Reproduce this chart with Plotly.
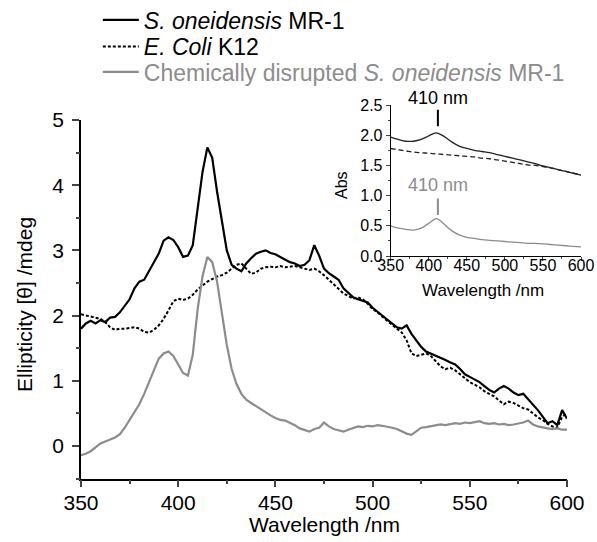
import plotly.graph_objects as go

# ---------------- data: main CD spectra ----------------
wl = [350 + 2.5 * i for i in range(101)]

mr1 = [1.80, 1.88, 1.92, 1.88, 1.93, 1.90, 1.97, 1.98, 2.05, 2.15,
       2.25, 2.42, 2.52, 2.55, 2.68, 2.82, 2.95, 3.15, 3.20, 3.16,
       3.05, 2.90, 2.92, 3.08, 3.65, 4.20, 4.58, 4.42, 3.90, 3.45,
       3.00, 2.78, 2.72, 2.68, 2.80, 2.88, 2.95, 2.98, 3.00, 2.96,
       2.94, 2.90, 2.86, 2.82, 2.80, 2.76, 2.78, 2.85, 3.08, 2.92,
       2.72, 2.65, 2.60, 2.55, 2.42, 2.35, 2.28, 2.25, 2.22, 2.20,
       2.12, 2.06, 2.00, 1.95, 1.88, 1.82, 1.80, 1.85, 1.72, 1.62,
       1.52, 1.45, 1.42, 1.38, 1.35, 1.32, 1.28, 1.25, 1.18, 1.10,
       1.06, 1.02, 0.98, 0.92, 0.86, 0.82, 0.88, 0.92, 0.88, 0.82,
       0.78, 0.80, 0.72, 0.64, 0.55, 0.45, 0.35, 0.38, 0.32, 0.55,
       0.42]

ecoli = [2.02, 2.00, 1.98, 1.97, 1.95, 1.90, 1.82, 1.78, 1.80, 1.80,
         1.81, 1.82, 1.80, 1.75, 1.74, 1.78, 1.85, 1.95, 2.08, 2.22,
         2.26, 2.24, 2.26, 2.32, 2.40, 2.46, 2.52, 2.56, 2.60, 2.62,
         2.66, 2.72, 2.78, 2.80, 2.72, 2.64, 2.66, 2.72, 2.74, 2.75,
         2.74, 2.76, 2.74, 2.75, 2.76, 2.74, 2.72, 2.70, 2.72, 2.68,
         2.62, 2.55, 2.48, 2.40, 2.34, 2.30, 2.26, 2.28, 2.25, 2.18,
         2.10, 2.05, 1.98, 1.92, 1.86, 1.80, 1.74, 1.62, 1.42, 1.38,
         1.40, 1.42, 1.38, 1.30, 1.22, 1.18, 1.20, 1.16, 1.10, 1.04,
         0.98, 0.94, 0.90, 0.84, 0.80, 0.76, 0.70, 0.64, 0.68, 0.66,
         0.62, 0.58, 0.56, 0.50, 0.44, 0.40, 0.34, 0.30, 0.28, 0.45,
         0.50]

disrupted = [-0.14, -0.12, -0.08, -0.02, 0.04, 0.07, 0.10, 0.13, 0.18, 0.28,
             0.40, 0.52, 0.64, 0.80, 0.98, 1.16, 1.34, 1.42, 1.45, 1.38,
             1.26, 1.12, 1.08, 1.40, 2.10, 2.60, 2.90, 2.82, 2.52, 2.00,
             1.55, 1.18, 0.95, 0.80, 0.71, 0.66, 0.61, 0.56, 0.52, 0.47,
             0.43, 0.40, 0.39, 0.36, 0.32, 0.27, 0.24, 0.22, 0.26, 0.28,
             0.36, 0.30, 0.26, 0.24, 0.22, 0.25, 0.28, 0.30, 0.29, 0.31,
             0.30, 0.32, 0.31, 0.30, 0.28, 0.26, 0.22, 0.19, 0.17, 0.22,
             0.28, 0.29, 0.30, 0.31, 0.33, 0.32, 0.34, 0.35, 0.34, 0.36,
             0.35, 0.37, 0.38, 0.35, 0.34, 0.35, 0.33, 0.34, 0.32, 0.33,
             0.34, 0.36, 0.39, 0.33, 0.30, 0.28, 0.27, 0.26, 0.27, 0.25,
             0.25]

# ---------------- data: inset absorbance ----------------
wl_abs = [350, 360, 370, 380, 390, 400, 410, 420, 430, 440, 450, 460, 470,
          480, 490, 500, 510, 520, 530, 540, 550, 560, 570, 580, 590, 600]
abs_mr1 = [1.97, 1.93, 1.90, 1.90, 1.93, 1.99, 2.04, 1.98, 1.89, 1.82, 1.78,
           1.75, 1.73, 1.71, 1.68, 1.65, 1.62, 1.59, 1.56, 1.53, 1.49, 1.46,
           1.43, 1.40, 1.37, 1.34]
abs_ecoli = [1.78, 1.76, 1.74, 1.72, 1.71, 1.70, 1.69, 1.68, 1.67, 1.66, 1.65,
             1.64, 1.62, 1.61, 1.59, 1.57, 1.55, 1.53, 1.51, 1.50, 1.48, 1.46,
             1.43, 1.40, 1.37, 1.34]
abs_disrupted = [0.50, 0.46, 0.44, 0.43, 0.46, 0.54, 0.62, 0.53, 0.42, 0.35,
                 0.31, 0.29, 0.27, 0.26, 0.25, 0.24, 0.23, 0.22, 0.21, 0.21,
                 0.20, 0.19, 0.18, 0.17, 0.16, 0.15]

# peak markers in the inset (410 nm Soret band)
peak_label = "410 nm"
peak_nm = [412, 412]
peak_mark_mr1 = [2.15, 2.42]
peak_mark_disrupted = [0.68, 0.95]

# tick positions
x_major = [350, 400, 450, 500, 550, 600]
x_minor = [375, 425, 475, 525, 575]
y_major = [0, 1, 2, 3, 4, 5]
y_minor = [-0.5, 0.5, 1.5, 2.5, 3.5, 4.5]
y2_major = [0.0, 0.5, 1.0, 1.5, 2.0, 2.5]
y2_labels = ["0.0", "0.5", "1.0", "1.5", "2.0", "2.5"]
y2_minor = [0.25, 0.75, 1.25, 1.75, 2.25]

BLACK = "black"
GRAY = "#8c8c8c"
FONT = "Liberation Sans, Arial, sans-serif"

W, H = 597, 542


def px(x):
    return x / W


def py(y):
    return 1 - y / H


fig = go.Figure()

fig.add_trace(go.Scatter(x=wl, y=mr1, mode="lines", name="<i>S. oneidensis</i> MR-1",
                         line=dict(color=BLACK, width=2.2), legend="legend"))
fig.add_trace(go.Scatter(x=wl, y=ecoli, mode="lines", name="<i>E. Coli</i> K12",
                         line=dict(color=BLACK, width=2, dash="3px,2px"), legend="legend2"))
fig.add_trace(go.Scatter(x=wl, y=disrupted, mode="lines",
                         name="<span style='color:%s'>Chemically disrupted <i>S. oneidensis</i> MR-1</span>" % GRAY,
                         line=dict(color=GRAY, width=2.2), legend="legend3"))

fig.add_trace(go.Scatter(x=wl_abs, y=abs_mr1, mode="lines", showlegend=False,
                         line=dict(color="#222222", width=1.3, shape="spline"), xaxis="x2", yaxis="y2"))
fig.add_trace(go.Scatter(x=wl_abs, y=abs_ecoli, mode="lines", showlegend=False,
                         line=dict(color="#222222", width=1.3, dash="5px,3px", shape="spline"), xaxis="x2", yaxis="y2"))
fig.add_trace(go.Scatter(x=wl_abs, y=abs_disrupted, mode="lines", showlegend=False,
                         line=dict(color=GRAY, width=1.3, shape="spline"), xaxis="x2", yaxis="y2"))
fig.add_trace(go.Scatter(x=peak_nm, y=peak_mark_mr1, mode="lines", showlegend=False,
                         line=dict(color=BLACK, width=2), xaxis="x2", yaxis="y2"))
fig.add_trace(go.Scatter(x=peak_nm, y=peak_mark_disrupted, mode="lines", showlegend=False,
                         line=dict(color=GRAY, width=2), xaxis="x2", yaxis="y2"))
# carriers so the overlay minor-tick axes are drawn
fig.add_trace(go.Scatter(x=[None], y=[None], xaxis="x3", yaxis="y3", showlegend=False, hoverinfo="skip"))
fig.add_trace(go.Scatter(x=[None], y=[None], xaxis="x4", yaxis="y4", showlegend=False, hoverinfo="skip"))

XD = [px(81), px(567)]
YD = [py(478.6), py(120)]
X2D = [px(390.7), px(581)]
Y2D = [py(256), py(105)]

legend_common = dict(xanchor="left", yanchor="middle", bgcolor="rgba(0,0,0,0)",
                     font=dict(size=23, family=FONT), itemwidth=36)

fig.update_layout(
    width=W, height=H,
    # margins stay fixed at zero: nothing may push them
    margin=dict(l=0, r=0, t=0, b=0, autoexpand=False),
    template="simple_white",
    font=dict(family=FONT, color=BLACK),
    xaxis=dict(domain=XD, range=[350, 600], showline=True, linecolor=BLACK, linewidth=1.5,
               ticks="outside", tickvals=x_major, ticklen=7, tickwidth=1.5,
               tickfont=dict(size=21), ticklabelstandoff=-3),
    yaxis=dict(domain=YD, range=[-0.5, 5], showline=True, linecolor=BLACK, linewidth=1.5,
               ticks="outside", tickvals=y_major, ticklen=7, tickwidth=1.5,
               tickfont=dict(size=21), ticklabelstandoff=4),
    xaxis3=dict(domain=XD, range=[350, 600], overlaying="x", anchor="y", side="bottom",
                showline=False, ticks="outside", tickvals=x_minor, ticklen=4, tickwidth=1.5,
                showticklabels=False),
    yaxis3=dict(domain=YD, range=[-0.5, 5], overlaying="y", anchor="x", side="left",
                showline=False, ticks="outside", tickvals=y_minor, ticklen=4, tickwidth=1.5,
                showticklabels=False),
    xaxis2=dict(domain=X2D, range=[350, 600], anchor="y2", showline=True, linecolor=BLACK,
                linewidth=1, ticks="outside", tickvals=x_major, ticklen=4, tickwidth=1,
                tickfont=dict(size=16), ticklabelstandoff=-9),
    yaxis2=dict(domain=Y2D, range=[0, 2.5], anchor="x2", showline=True, linecolor=BLACK,
                linewidth=1, ticks="outside", tickvals=y2_major, ticktext=y2_labels,
                ticklen=4, tickwidth=1, tickfont=dict(size=16)),
    xaxis4=dict(domain=X2D, range=[350, 600], overlaying="x2", anchor="y2", side="bottom",
                showline=False, ticks="outside", tickvals=x_minor, ticklen=2, tickwidth=1,
                showticklabels=False),
    yaxis4=dict(domain=Y2D, range=[0, 2.5], overlaying="y2", anchor="x2", side="left",
                showline=False, ticks="outside", tickvals=y2_minor, ticklen=2, tickwidth=1,
                showticklabels=False),
    legend=dict(legend_common, x=px(97), y=py(20)),
    legend2=dict(legend_common, x=px(97), y=py(46.5)),
    legend3=dict(legend_common, x=px(97), y=py(72)),
    showlegend=True,
)


def label(x, y, text, size, color=BLACK, angle=0):
    fig.add_annotation(x=px(x), y=py(y), xref="paper", yref="paper", text=text,
                       showarrow=False, xanchor="center", yanchor="middle", textangle=angle,
                       font=dict(size=size, color=color, family=FONT))


# axis titles
label(325, 524, "Wavelength /nm", 21)
label(24, 305, "Ellipticity [θ] /mdeg", 21, angle=-90)
label(483, 290, "Wavelength /nm", 17)
label(342, 185, "Abs", 16, angle=-90)
# peak labels
label(438, 98, peak_label, 18)
label(438, 185, peak_label, 18, GRAY)

# a second full layout pass (margins end up unchanged) so axis lines and ticks are drawn
redraw_js = (
    "var gd = document.getElementById('{plot_id}');"
    "Plotly.relayout(gd, {'margin.l': 1}).then(function(){"
    "return Plotly.relayout(gd, {'margin.l': 0});});"
)

fig.write_html("out.html", post_script=redraw_js)
